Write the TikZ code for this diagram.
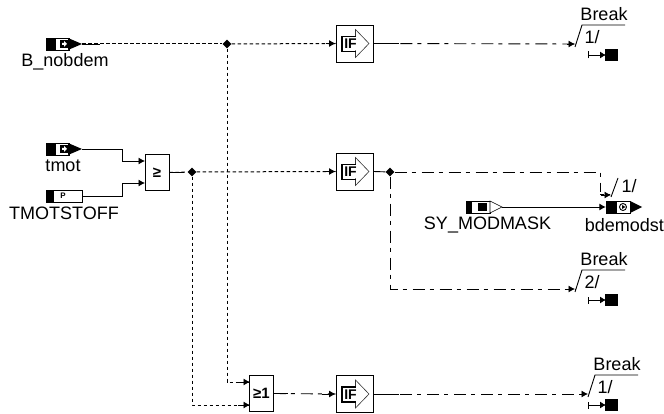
\documentclass[tikz,border=0pt]{standalone}
\usepackage{fontspec}
\setmainfont{Liberation Sans}
\usepackage{xcolor}
\usetikzlibrary{arrows.meta,shapes.geometric}

\tikzset{
  x=1pt,y=-1pt,
  portnode/.style={inner sep=0pt,minimum width=36pt,minimum height=12pt},
  funcbox/.style={draw,line width=0.9pt,inner sep=0pt,minimum width=24pt,minimum height=36pt,font=\bfseries\fontsize{15}{15}\selectfont},
  ifbox/.style={draw,line width=0.9pt,inner sep=0pt,minimum width=37pt,minimum height=37pt},
  junction/.style={diamond,fill=black,inner sep=0pt,minimum width=9pt,minimum height=9pt},
  sigtext/.style={inner sep=0pt,font=\fontsize{18}{18}\selectfont},
  solidline/.style={line width=0.9pt},
  flagline/.style={line width=1pt,dash pattern=on 3.5pt off 2.5pt},
  cmdline/.style={line width=0.9pt,dash pattern=on 12pt off 5pt on 4pt off 6pt},
  tip/.style={-{Latex[length=6.5pt,width=7pt]}},
}

% input block with black tip
\newcommand{\portin}[3]{%
  \node[portnode] (#1) at (#2,#3) {};
  \begin{scope}[shift={(#2,#3)}]
    \draw[line width=0.8pt] (-18,-6) rectangle (5,6);
    \fill (-18,-6) rectangle (-8,6);
    \fill (-4,-4) rectangle (4,4);
    \fill[white] (-2,-1) -- (0,-1) -- (0,-3) -- (3,0) -- (0,3) -- (0,1) -- (-2,1) -- cycle;
    \fill (4,-6) -- (18,0) -- (4,6) -- cycle;
  \end{scope}}

% one break mark, stop symbol at a given offset
\newcommand{\breakmark}[5]{%
  \coordinate (#1) at (#2,#3);
  \begin{scope}[shift={(#2,#3)}]
    \draw[line width=0.9pt] (0,3) -- (7,-19) -- (50,-19);
    \node[sigtext] at (29,-30) {Break};
    \node[sigtext] at (17,-7) {#4};
    \draw[line width=0.9pt,{Bar[width=7pt,length=0pt]}-{Latex[length=6pt,width=7pt]}] (#5,11) -- (#5+18,11);
    \fill (#5+17,5) rectangle (#5+30,17);
  \end{scope}}

% IF block, box and arrow inside
\newcommand{\ifblock}[3]{%
  \node[ifbox] (#1) at (#2,#3) {};
  \begin{scope}[shift={(#2,#3)}]
    \draw[line width=0.6pt,draw=black!80] (1,-7) -- (1,-14) -- (14.5,0) -- (1,14) -- (1,7);
    \draw[line width=1.3pt] (1,-7) -- (-12.5,-7) -- (-12.5,8) -- (1,8);
    \node[inner sep=0pt,font=\bfseries\fontsize{14}{14}\selectfont] at (-4,0.5) {IF};
  \end{scope}}

\begin{document}
\begin{tikzpicture}
  \useasboundingbox (0,0) rectangle (664,414);

  % Inputs
  \portin{bnobdem}{64}{44}
  \portin{tmot}{64}{149}
  \node[portnode,draw,line width=0.8pt] (tmotstoff) at (64,196) {};
  \fill (46,190) rectangle (54,202);
  \node[inner sep=0pt,font=\bfseries\fontsize{8}{8}\selectfont] at (63,196) {P};
  \node[portnode] (symodmask) at (484,207) {};
  \draw[line width=0.8pt] (466,201) rectangle (490,213);
  \fill (466,201) rectangle (472,213);
  \fill (478,203) rectangle (487,211);
  \draw[line width=0.6pt,fill=white] (490,201) -- (502,207) -- (490,213) -- cycle;

  % Labels of the ports
  \node[sigtext] at (65,62) {B\_nobdem};
  \node[sigtext] at (63,166) {tmot};
  \node[sigtext] at (64,213) {TMOTSTOFF};
  \node[sigtext] at (487.5,225) {SY\_MODMASK};
  \node[sigtext,anchor=east] at (664,225) {bdemodst};

  % Output
  \node[portnode] (bdemodst) at (624,207) {};
  \draw[line width=0.8pt] (606,201) rectangle (630,213);
  \fill (606,201) rectangle (617,213);
  \draw[line width=0.9pt] (623,207) circle (3.5);
  \fill (622,205) -- (625.5,207) -- (622,209) -- cycle;
  \fill (630,201) -- (642,207) -- (630,213) -- cycle;
  \draw[line width=0.9pt] (611,197) -- (618,178);
  \node[sigtext] at (629,186) {1/};

  % Blocks
  \node[funcbox] (cmp) at (157,172.5) {≥};
  \node[funcbox] (orgate) at (261.5,393.5) {≥1};
  \ifblock{ifa}{354.5}{43.5}
  \ifblock{ifb}{354.5}{171.5}
  \ifblock{ifc}{354.5}{394}

  % Junctions
  \node[junction] (juna) at (227,44) {};
  \node[junction] (junb) at (192,172) {};
  \node[junction] (junc) at (390,172) {};

  % Break marks
  \breakmark{brka}{575}{44}{1/}{13}
  \breakmark{brkb}{575}{289}{2/}{13}
  \breakmark{brkc}{588}{394}{1/}{0}

  % Input points
  \coordinate (cmpa) at (145,161);
  \coordinate (cmpb) at (145,183);
  \coordinate (ora) at (250,382);
  \coordinate (orb) at (250,405);
  \coordinate (outdrop) at (600,189);
  \coordinate (outbend) at (611,195);

  % Solid signals
  \draw[solidline,tip] (tmot.east) -- ++(40,0) |- (cmpa);
  \draw[solidline,tip] (tmotstoff.east) -- ++(40,0) |- (cmpb);
  \draw[solidline,tip] (symodmask.east) -- (bdemodst.west);

  % Flag signals
  \draw[flagline] (bnobdem.east) -- (juna);
  \draw[solidline] (bnobdem.east) -- ++(18,0);
  \draw[flagline] (juna) -- (ifa.west);
  \draw[solidline,tip] ([xshift=-10pt]ifa.west) -- (ifa.west);
  \draw[flagline] (cmp.east) -- (junb);
  \draw[solidline] (cmp.east) -- ++(15,0);
  \draw[flagline] (junb) -- (ifb.west);
  \draw[solidline,tip] ([xshift=-10pt]ifb.west) -- (ifb.west);
  \draw[flagline] (juna) |- (ora);
  \draw[solidline,tip] ([xshift=-12pt]ora) -- (ora);
  \draw[flagline] (junb) |- (orb);
  \draw[solidline,tip] ([xshift=-12pt]orb) -- (orb);

  % Command signals
  \draw[cmdline] (ifa.east) -- (brka);
  \draw[solidline,tip] ([xshift=-8pt]brka) -- (brka);
  \draw[solidline] (ifa.east) -- ++(26,0);
  \draw[solidline] (ifb.east) -- (junc);
  \draw[cmdline] (junc) -| (outdrop);
  \draw[flagline] (outdrop) |- (outbend);
  \draw[solidline,tip] ([xshift=-10pt]outbend) -- (outbend);
  \draw[cmdline] (junc) |- (brkb);
  \draw[solidline,tip] ([xshift=-8pt]brkb) -- (brkb);
  \draw[cmdline] (orgate.east) -- (ifc.west);
  \draw[solidline,tip] ([xshift=-14pt]ifc.west) -- (ifc.west);
  \draw[solidline] (orgate.east) -- ++(14,0);
  \draw[cmdline] (ifc.east) -- (brkc);
  \draw[solidline,tip] ([xshift=-8pt]brkc) -- (brkc);
  \draw[solidline] (ifc.east) -- ++(26,0);
\end{tikzpicture}
\end{document}
